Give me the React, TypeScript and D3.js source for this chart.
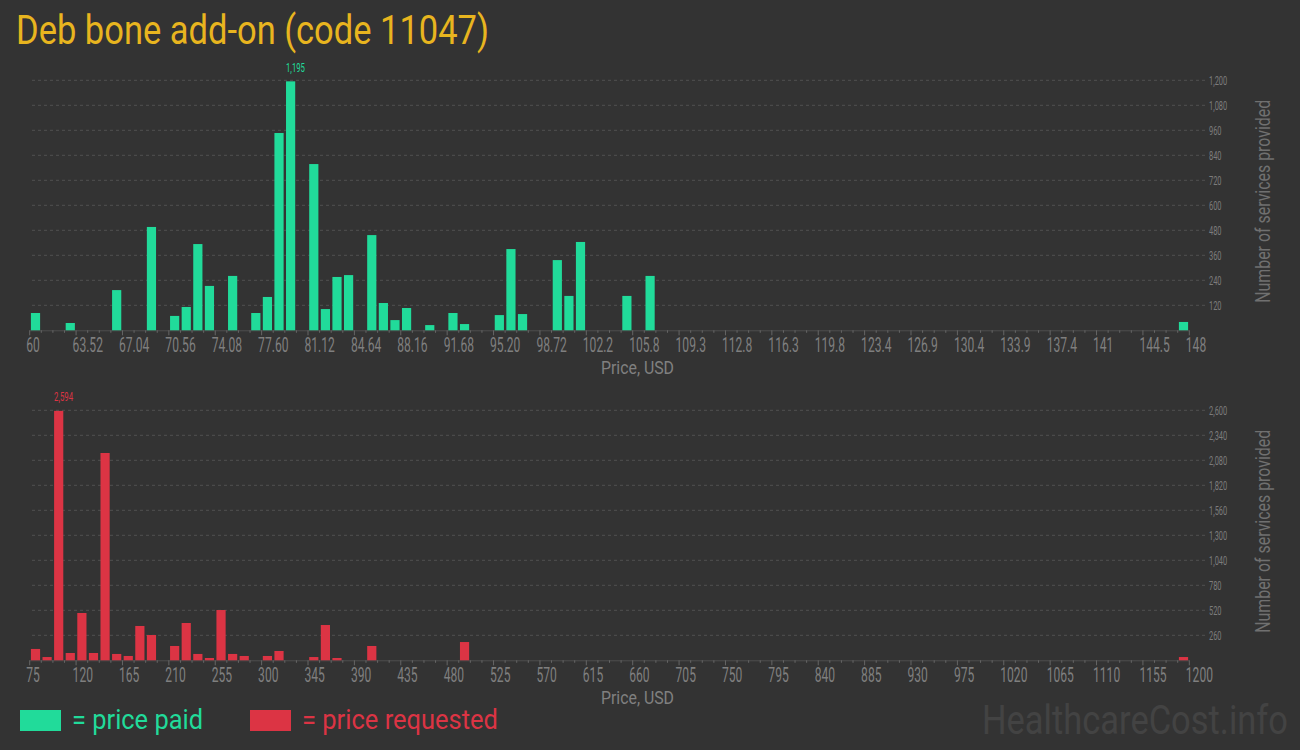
import * as d3 from "d3";

const W = 1300;
const H = 750;
const BG = "#333333";
const GREEN = "#21db9a";
const RED = "#dc3444";
const GOLD = "#e8b51f";
const FONT = "Roboto, 'Noto Sans', sans-serif";

// price paid: histogram bins (lower edge, USD) and counts
const paidPrices = [
  60.0, 62.64, 66.16, 68.8, 70.56, 71.44, 72.32, 73.2, 74.96, 76.72, 77.6,
  78.48, 79.36, 81.12, 82.0, 82.88, 83.76, 85.52, 86.4, 87.28, 88.16, 89.92,
  91.68, 92.56, 95.2, 96.08, 96.96, 99.6, 100.48, 101.36, 104.88, 106.64,
  147.12,
];
const paidCounts = [
  83, 35, 193, 496, 69, 112, 414, 213, 261, 83, 160, 947, 1195, 798, 102, 256,
  265, 457, 131, 49, 107, 25, 83, 30, 73, 390, 78, 337, 165, 424, 165, 261, 40,
];
const paidTicks = [
  "60", "63.52", "67.04", "70.56", "74.08", "77.60", "81.12", "84.64", "88.16",
  "91.68", "95.20", "98.72", "102.2", "105.8", "109.3", "112.8", "116.3",
  "119.8", "123.4", "126.9", "130.4", "133.9", "137.4", "141", "144.5", "148",
];
const paidYTicks = [120, 240, 360, 480, 600, 720, 840, 960, 1080, 1200];

// price requested
const reqPrices = [
  75, 86.25, 97.5, 108.75, 120, 131.25, 142.5, 153.75, 165, 176.25, 187.5,
  210, 221.25, 232.5, 243.75, 255, 266.25, 277.5, 300, 311.25, 345, 356.25,
  367.5, 401.25, 491.25, 1188.75,
];
const reqCounts = [
  118, 34, 2594, 76, 492, 76, 2156, 66, 45, 357, 263, 149, 388, 66, 24, 523,
  66, 45, 45, 97, 34, 367, 24, 149, 190, 34,
];
const reqTicks = [
  "75", "120", "165", "210", "255", "300", "345", "390", "435", "480", "525",
  "570", "615", "660", "705", "750", "795", "840", "885", "930", "975",
  "1020", "1065", "1110", "1155", "1200",
];
const reqYTicks = [260, 520, 780, 1040, 1300, 1560, 1820, 2080, 2340, 2600];

const X0 = 29.7;
const X1 = 1189.3;
const PLOT_H = 250;
const BINS = 100;

type HistProps = {
  prices: number[];
  counts: number[];
  lo: number;
  hi: number;
  ticks: string[];
  yTicks: number[];
  color: string;
  baseline: number;
};

const Narrow = ({
  x,
  y,
  size,
  fill,
  children,
  sx = 0.62,
  dy,
}: {
  x: number;
  y: number;
  size: number;
  fill: string;
  children: any;
  sx?: number;
  dy?: string;
}) => (
  <g transform={`translate(${x},${y}) scale(${sx},1)`}>
    <text fontFamily={FONT} fontSize={size} fill={fill} dy={dy}>
      {children}
    </text>
  </g>
);

const Histogram = ({
  prices,
  counts,
  lo,
  hi,
  ticks,
  yTicks,
  color,
  baseline,
}: HistProps) => {
  const yMax = yTicks[yTicks.length - 1];
  const x = d3.scaleLinear().domain([lo, hi]).range([X0, X1]);
  const y = d3.scaleLinear().domain([0, yMax]).range([baseline, baseline - PLOT_H]);
  const binW = (hi - lo) / BINS;
  const pxW = x(lo + binW) - x(lo);
  const majorStep = (hi - lo) / (ticks.length - 1);
  const maxIdx = d3.maxIndex(counts);

  return (
    <g>
      {yTicks.map((t) => (
        <g key={t}>
          <line
            x1={32}
            x2={1205}
            y1={y(t)}
            y2={y(t)}
            stroke="#515151"
            strokeDasharray="3,3"
          />
          <Narrow x={1209} y={y(t)} size={12} fill="#7c7c7c" dy="0.35em">
            {d3.format(",")(t)}
          </Narrow>
        </g>
      ))}
      <line x1={X0} x2={X1} y1={baseline + 0.5} y2={baseline + 0.5} stroke="#4f4f4f" />
      {d3.range(BINS + 1).map((i) => (
        <line
          key={i}
          x1={x(lo + i * binW)}
          x2={x(lo + i * binW)}
          y1={baseline}
          y2={baseline + (i % 4 === 0 ? 5 : 2.5)}
          stroke="#666"
        />
      ))}
      {ticks.map((t, k) => (
        <Narrow key={t} x={x(lo + k * majorStep) - 3.5} y={baseline + 21.5} size={19.5} fill="#7f7f7f">
          {t}
        </Narrow>
      ))}
      {prices.map((p, i) => (
        <rect
          key={p}
          x={x(p) + 1.2}
          width={pxW - 2.4}
          y={y(counts[i])}
          height={baseline - y(counts[i])}
          fill={color}
        />
      ))}
      <Narrow
        x={x(prices[maxIdx]) + 1.2}
        y={y(counts[maxIdx]) - 9.5}
        size={12.5}
        fill={color}
      >
        {d3.format(",")(counts[maxIdx])}
      </Narrow>
      <text
        x={637.5}
        y={baseline + 43.5}
        textAnchor="middle"
        fontFamily={FONT}
        fontSize={18}
        fill="#808080"
        textLength={73}
        lengthAdjust="spacingAndGlyphs"
      >
        Price, USD
      </text>
      <text
        transform={`translate(1270,${baseline - 129}) rotate(-90)`}
        textAnchor="middle"
        fontFamily={FONT}
        fontSize={20}
        fill="#707070"
        textLength={203}
        lengthAdjust="spacingAndGlyphs"
      >
        Number of services provided
      </text>
    </g>
  );
};

export default function App() {
  return (
    <svg
      width={W}
      height={H}
      style={{ position: "absolute", left: 0, top: 0, display: "block" }}
    >
      <rect width={W} height={H} fill={BG} />
      <text
        x={16}
        y={44}
        fontFamily={FONT}
        fontSize={40}
        fill={GOLD}
        textLength={473}
        lengthAdjust="spacingAndGlyphs"
      >
        Deb bone add-on (code 11047)
      </text>
      <Histogram
        prices={paidPrices}
        counts={paidCounts}
        lo={60}
        hi={148}
        ticks={paidTicks}
        yTicks={paidYTicks}
        color={GREEN}
        baseline={330.3}
      />
      <Histogram
        prices={reqPrices}
        counts={reqCounts}
        lo={75}
        hi={1200}
        ticks={reqTicks}
        yTicks={reqYTicks}
        color={RED}
        baseline={660.3}
      />
      <rect x={20} y={710} width={41} height={21} fill={GREEN} />
      <text
        x={72}
        y={729}
        fontFamily={FONT}
        fontSize={28}
        fill={GREEN}
        textLength={131}
        lengthAdjust="spacingAndGlyphs"
      >
        = price paid
      </text>
      <rect x={250} y={710} width={41} height={21} fill={RED} />
      <text
        x={302}
        y={729}
        fontFamily={FONT}
        fontSize={28}
        fill={RED}
        textLength={196}
        lengthAdjust="spacingAndGlyphs"
      >
        = price requested
      </text>
      <text
        x={982}
        y={734}
        fontFamily={FONT}
        fontSize={40}
        fill="#434343"
        textLength={306}
        lengthAdjust="spacingAndGlyphs"
      >
        HealthcareCost.info
      </text>
    </svg>
  );
}
